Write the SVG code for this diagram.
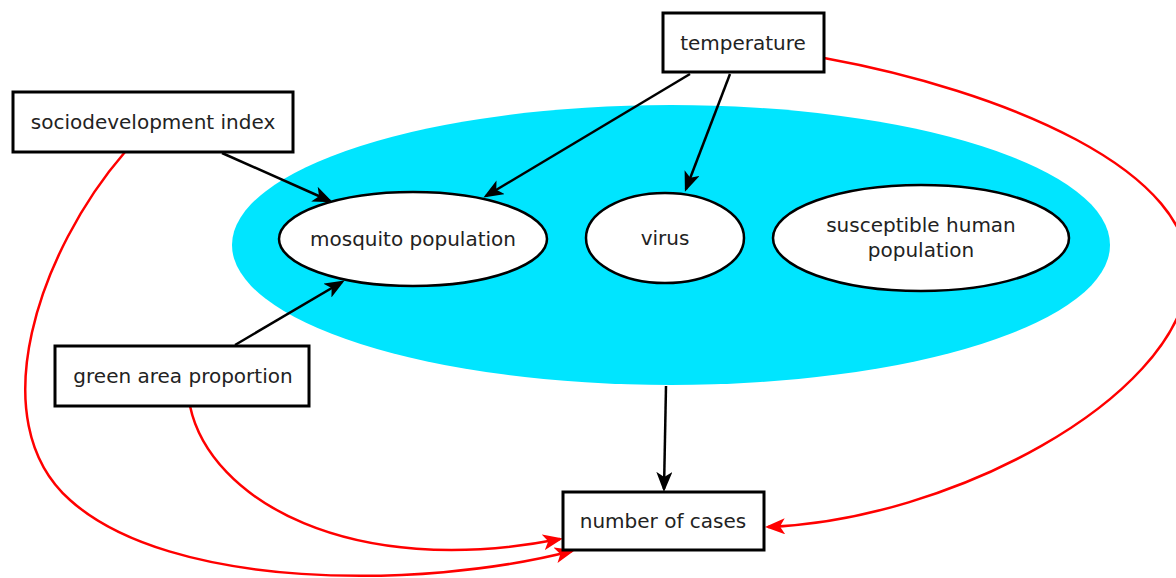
<svg xmlns="http://www.w3.org/2000/svg" width="1176" height="578" viewBox="0 0 1176 578">
<style>
.box{fill:#fff;stroke:#000;stroke-width:3}
.ell{fill:#fff;stroke:#000;stroke-width:2.5}
.lbl{font-family:"DejaVu Sans",sans-serif;font-size:20px;fill:#222;text-anchor:middle;dominant-baseline:central}
.blk{fill:none;stroke:#000;stroke-width:2.5;marker-end:url(#ab)}
.red{fill:none;stroke:#f00;stroke-width:2.5;marker-end:url(#ar)}
</style>
<defs>
<marker id="ab" markerWidth="20" markerHeight="16" refX="17" refY="8" orient="auto" markerUnits="userSpaceOnUse" viewBox="0 0 20 16">
<path d="M0,0 L20,8 L0,16 L5,8 Z" fill="#000"/>
</marker>
<marker id="ar" markerWidth="20" markerHeight="16" refX="17" refY="8" orient="auto" markerUnits="userSpaceOnUse" viewBox="0 0 20 16">
<path d="M0,0 L20,8 L0,16 L5,8 Z" fill="#f00"/>
</marker>
</defs>
<rect width="1176" height="578" fill="#fff"/>
<g id="system">
<ellipse cx="671" cy="245" rx="439" ry="140" fill="#00e5ff"/>
</g>
<g id="connectors">
<path class="blk" d="M690,74 L486,196"/>
<path class="blk" d="M730,74 L686,189"/>
<path class="blk" d="M222,153 L330,201"/>
<path class="blk" d="M235,345 L342,282"/>
<path class="blk" d="M666,386 L664,489"/>
<path class="red" d="M125,152 C40,250 -20,420 70,500 C170,590 420,590 572,551"/>
<path class="red" d="M190,406 C210,500 350,580 560,539"/>
<path class="red" d="M824,58 C1000,90 1200,170 1188,280 C1175,400 950,520 768,527"/>
</g>
<g id="n-temperature">
<rect class="box" x="663" y="13" width="161" height="59"/>
<text class="lbl" x="743" y="43">temperature</text>
</g>
<g id="n-socio">
<rect class="box" x="13" y="92" width="280" height="60"/>
<text class="lbl" x="153" y="122">sociodevelopment index</text>
</g>
<g id="n-green">
<rect class="box" x="55" y="346" width="254" height="60"/>
<text class="lbl" x="183" y="376">green area proportion</text>
</g>
<g id="n-cases">
<rect class="box" x="563" y="492" width="201" height="58"/>
<text class="lbl" x="663" y="521">number of cases</text>
</g>
<g id="n-mosquito">
<ellipse class="ell" cx="413" cy="239" rx="134" ry="47"/>
<text class="lbl" x="413" y="239">mosquito population</text>
</g>
<g id="n-virus">
<ellipse class="ell" cx="665" cy="238" rx="79" ry="45"/>
<text class="lbl" x="665" y="238">virus</text>
</g>
<g id="n-human">
<ellipse class="ell" cx="921" cy="238" rx="148" ry="53"/>
<text class="lbl" x="921" y="225">susceptible human</text>
<text class="lbl" x="921" y="250">population</text>
</g>
</svg>
